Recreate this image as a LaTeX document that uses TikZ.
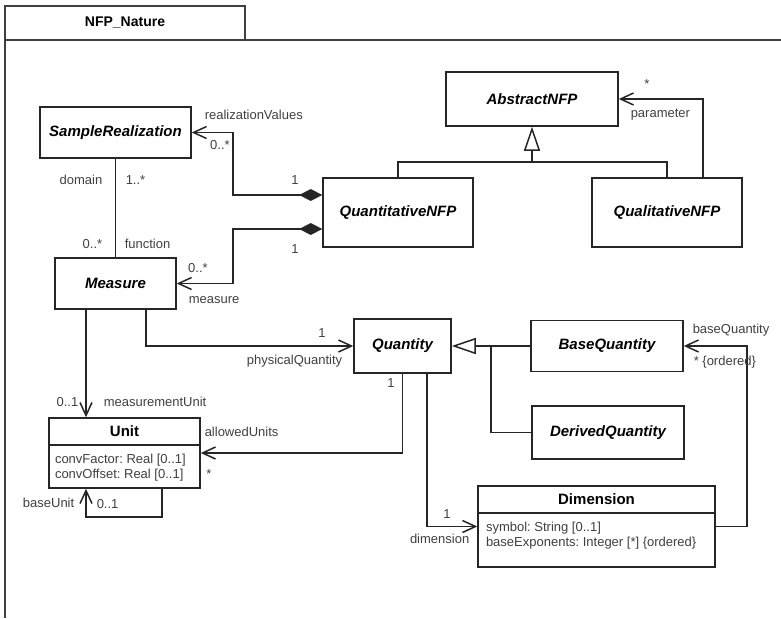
\documentclass[tikz,border=0pt]{standalone}
\usepackage{fontspec}
\setmainfont{Liberation Sans}
\frenchspacing
\usetikzlibrary{arrows.meta,positioning}

\begin{document}
\begin{tikzpicture}[x=1pt,y=-1pt,line width=1.5pt,
    every node/.style={font=\fontsize{13}{15}\selectfont,text=black!75,inner sep=0pt}]
  \tikzstyle{classA}=[rectangle,draw=black!85,fill=white,text=black,font=\fontsize{15}{18}\selectfont\bfseries\itshape]
  \tikzstyle{classC}=[rectangle,draw=black!85,fill=white]
  \tikzstyle{ctitle}=[text=black,font=\fontsize{15}{18}\selectfont\bfseries,minimum height=26pt]
  \tikzstyle{attr}=[align=left]
  \tikzstyle{lab}=[anchor=base west]
  \tikzstyle{assoc}=[draw=black!85,-{Straight Barb[length=13pt,width=12pt]}]
  \tikzstyle{comp}=[draw=black!85,{Diamond[length=23pt,width=12pt]}-{Straight Barb[length=13pt,width=12pt]}]
  \tikzstyle{gener}=[draw=black!85,-{Triangle[open,length=24pt,width=16pt,fill=white]}]
  \useasboundingbox (0,0) rectangle (781,618);
  % Package frame
  \draw[black!75,line width=1.8pt] (5,618) -- (5,40) -- (781,40);
  \node[classC,draw=black!75,line width=1.5pt,minimum width=240pt,minimum height=34pt,
    text=black,font=\fontsize{14}{17}\selectfont\bfseries] (pkg) at (125,23) {NFP\_Nature};
  % Classes
  \node[classA, minimum width=151pt, minimum height=51pt] (sr) at (115.5,132.5) {SampleRealization};
  \node[classA, minimum width=121pt, minimum height=51pt] (meas) at (115.5,283.5) {Measure};
  \node[classA, minimum width=150pt, minimum height=69pt] (qnfp) at (398,212.5) {QuantitativeNFP};
  \node[classA, minimum width=172pt, minimum height=54pt] (anfp) at (532,99) {AbstractNFP};
  \node[classA, minimum width=150pt, minimum height=69pt] (qlnfp) at (667,212.5) {QualitativeNFP};
  \node[classA, minimum width=97pt, minimum height=54pt] (qty) at (402.5,346) {Quantity};
  \node[classA, minimum width=152pt, minimum height=51pt] (bq) at (607,346) {BaseQuantity};
  \node[classA, minimum width=152pt, minimum height=53pt] (dq) at (608,432.5) {DerivedQuantity};
  \node[classC, minimum width=151pt, minimum height=70pt] (unit) at (124.5,453) {};
  \node[classC, minimum width=237pt, minimum height=81pt] (dim) at (596.5,526.5) {};
  % Compartments
  \node[ctitle, below=0pt of unit.north] (unitname) {Unit};
  \draw[black!85] (unitname.south -| unit.west) -- (unitname.south -| unit.east);
  \node[attr, below right=9pt and 6pt of unitname.south -| unit.west] (unitattr)
    {convFactor: Real [0..1]\\convOffset: Real [0..1]};
  \node[ctitle, below=0pt of dim.north] (dimname) {Dimension};
  \draw[black!85] (dimname.south -| dim.west) -- (dimname.south -| dim.east);
  \node[attr, below right=9pt and 8pt of dimname.south -| dim.west] (dimattr)
    {symbol: String [0..1]\\baseExponents: Integer [*] \{ordered\}};
  % Generalizations
  \coordinate (nfpjoin) at (532,162);
  \coordinate (qtyjoin) at (491,346);
  \draw[black!85] (qnfp.north) |- (nfpjoin) -| (qlnfp.north);
  \draw[gener] (nfpjoin) -- (anfp.south);
  \draw[black!85] (dq.west) -| (qtyjoin);
  \draw[gener] (bq.west) -- (qty.east);
  % Associations
  \draw[comp] ([yshift=17.5pt]qnfp.west) -| ([xshift=41pt]sr.east) -- (sr.east);
  \draw[comp] ([yshift=-16.5pt]qnfp.west) -| ([xshift=56pt]meas.east) -- (meas.east);
  \draw[black!85] (sr) -- (meas);
  \draw[assoc] ([xshift=36pt]qlnfp.north) |- (anfp.east);
  \draw[assoc] ([xshift=30.5pt]meas.south) |- (qty.west);
  \draw[assoc] ([xshift=-29.5pt]meas.south) -- ([xshift=-38.5pt]unit.north);
  \draw[assoc] (qty.south) |- (unit.east);
  \draw[assoc] ([xshift=24.5pt]qty.south) |- (dim.west);
  \draw[assoc] (dim.east) -- ++(31,0) |- (bq.east);
  \draw[assoc] ([xshift=37.5pt]unit.south) -- ++(0,28) -| ([xshift=-38.5pt]unit.south);
  % Role names and multiplicities
  \node[lab] (lrv) at (204,119.5) {realizationValues};
  \node[lab, anchor=base] (lrvm) at (220,149) {0..*};
  \node[lab, anchor=base] (lq1) at (295,184) {1};
  \node[lab, anchor=base] (lq2) at (295,253) {1};
  \node[lab, anchor=base] (lmm) at (198,272) {0..*};
  \node[lab] (lmeas) at (188,303) {measure};
  \node[lab, anchor=base east] (ldom) at (103,184) {domain};
  \node[lab] (ldomm) at (125,184) {1..*};
  \node[lab, anchor=base east] (lfunm) at (103,248) {0..*};
  \node[lab] (lfun) at (124,248) {function};
  \node[lab, anchor=base] (lparm) at (647,88) {*};
  \node[lab] (lpar) at (630,117) {parameter};
  \node[lab, anchor=base] (lpqm) at (322,337) {1};
  \node[lab, anchor=base east] (lpq) at (343,364) {physicalQuantity};
  \node[lab, anchor=base east] (lmum) at (79,406) {0..1};
  \node[lab] (lmu) at (103,406) {measurementUnit};
  \node[lab] (lau) at (204,436) {allowedUnits};
  \node[lab, anchor=base] (laum) at (209,478) {*};
  \node[lab, anchor=base] (lqum) at (391,387) {1};
  \node[lab, anchor=base east] (lbu) at (75,507) {baseUnit};
  \node[lab] (lbum) at (96,508) {0..1};
  \node[lab, anchor=base] (ldimm) at (447,518) {1};
  \node[lab, anchor=base east] (ldim) at (470,543) {dimension};
  \node[lab] (lbq) at (692,333) {baseQuantity};
  \node[lab] (lbqm) at (693,365) {* \{ordered\}};
\end{tikzpicture}
\end{document}
